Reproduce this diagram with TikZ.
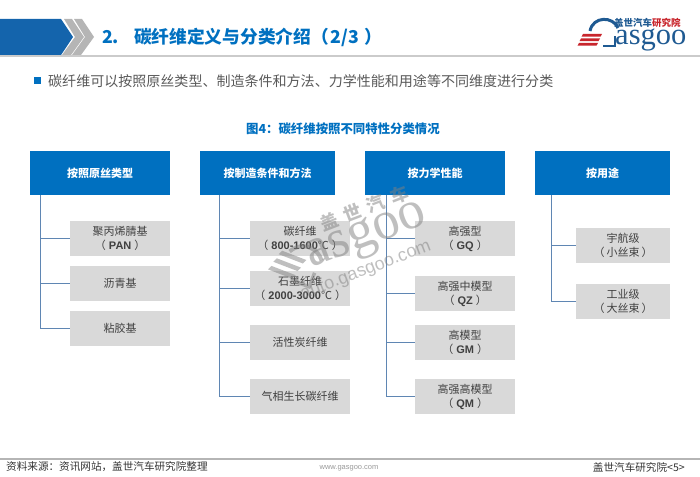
\documentclass[tikz,border=0pt]{standalone}
\usepackage{fontspec}
\setmainfont{Noto Sans CJK SC}
\newfontfamily\logofont{Liberation Serif}
\newfontfamily\wmfont{Liberation Sans}
\definecolor{gasblue}{HTML}{0070C0}
\definecolor{darkblue}{HTML}{1464AC}
\definecolor{chevgray}{HTML}{B5B5B5}
\definecolor{boxgray}{HTML}{D9D9D9}
\definecolor{linkblue}{HTML}{5F86B3}
\definecolor{logored}{HTML}{C8252C}
\definecolor{logoblue}{HTML}{1F5A92}
\newcommand{\latnote}[1]{（\hspace{3pt}{\wmfont\bfseries #1}\hspace{3pt}）}
\newcommand{\cjknote}[1]{（\hspace{2pt}#1\hspace{2pt}）}
\tikzset{
    headbox/.style={fill=gasblue,text=white,font=\fontsize{11}{13}\selectfont\bfseries,minimum height=44pt,inner sep=0pt,anchor=north west},
    kidbox/.style={fill=boxgray,text=black!75,font=\fontsize{11}{14}\selectfont,minimum height=35pt,minimum width=100pt,inner sep=0pt,align=center,anchor=north west},
    branch/.style={linkblue,line width=1pt},
    wmark/.style={gray,opacity=.5,rotate=21}
}
\begin{document}
\begin{tikzpicture}[x=1pt,y=-1pt,line join=miter]
    \useasboundingbox (0,0) rectangle (700,476);
    % title bar
    \fill[darkblue] (0,19)--(61,19)--(73,37)--(61,55)--(0,55)--cycle;
    \foreach \s in {0,10}
        \fill[chevgray] (64+\s,19)--(72+\s,19)--(84+\s,37)--(71+\s,55)--(62+\s,55)--(75+\s,37)--cycle;
    \draw[chevgray!70,line width=1.6pt] (0,56)--(700,56);
    \node[anchor=west,text=gasblue,font=\fontsize{17.7}{20}\selectfont\bfseries,inner sep=0pt] (title) at (102,37) {2.\hspace{15pt}碳纤维定义与分类介绍（\hspace{2pt}2/3\hspace{5pt}）};
    % logo
    \foreach \s/\t in {0/34,2/38.5,4/43}
        \fill[logored] (583-\s,\t)--(602-\s,\t)--(600.5-\s,\t+2.6)--(581.5-\s,\t+2.6)--cycle;
    \draw[logoblue,line width=3pt] (590,31) .. controls (593,16) and (613,16) .. (618,28);
    \draw[logoblue,line width=2.6pt] (603,46)--(615,46)--(615,36);
    \node[anchor=base west,text=logoblue,font=\logofont\fontsize{30.5}{30}\selectfont,inner sep=0pt] (logoword) at (615,45) {asgoo};
    \node[anchor=west,text=logoblue,font=\fontsize{9.5}{10}\selectfont\bfseries,inner sep=0pt] (logocn) at (614,23) {盖世汽车\textcolor{logored}{研究院}};
    % intro
    \fill[gasblue] (34,77) rectangle (41,84);
    \node[anchor=west,text=black!65,font=\fontsize{14.03}{16}\selectfont,inner sep=0pt] (intro) at (48,81) {碳纤维可以按照原丝类型、制造条件和方法、力学性能和用途等不同维度进行分类};
    \node[text=gasblue,font=\fontsize{12.4}{15}\selectfont\bfseries,inner sep=0pt] (figcap) at (343,129) {图4：碳纤维按照不同特性分类情况};
    % heads
    \node[headbox,minimum width=140pt] (head1) at (30,151) {按照原丝类型};
    \node[headbox,minimum width=135pt] (head2) at (200,151) {按制造条件和方法};
    \node[headbox,minimum width=140pt] (head3) at (365,151) {按力学性能};
    \node[headbox,minimum width=135pt] (head4) at (535,151) {按用途};
    % first column
    \node[kidbox] (pan) at (70,221) {聚丙烯腈基\\\latnote{PAN}};
    \node[kidbox] (pitch) at (70,266) {沥青基};
    \node[kidbox] (viscose) at (70,311) {粘胶基};
    % second column
    \node[kidbox] (carbon) at (250,221) {碳纤维\\\latnote{800-1600\normalfont℃}};
    \node[kidbox] (graphite) at (250,271) {石墨纤维\\\latnote{2000-3000\normalfont℃}};
    \node[kidbox] (active) at (250,325) {活性炭纤维};
    \node[kidbox] (vapor) at (250,379) {气相生长碳纤维};
    % third column
    \node[kidbox] (gq) at (415,221) {高强型\\\latnote{GQ}};
    \node[kidbox] (qz) at (415,276) {高强中模型\\\latnote{QZ}};
    \node[kidbox] (gm) at (415,325) {高模型\\\latnote{GM}};
    \node[kidbox] (qm) at (415,379) {高强高模型\\\latnote{QM}};
    % fourth column
    \node[kidbox,minimum width=94pt] (space) at (576,228) {宇航级\\\cjknote{小丝束}};
    \node[kidbox,minimum width=94pt] (indus) at (576,284) {工业级\\\cjknote{大丝束}};
    % trunks
    \coordinate (trunk1) at (40,195);
    \coordinate (trunk2) at (219,195);
    \coordinate (trunk3) at (386,195);
    \coordinate (trunk4) at (551,195);
    \foreach \k in {pan,pitch,viscose} \draw[branch] (trunk1) |- (\k.west);
    \foreach \k in {carbon,graphite,active,vapor} \draw[branch] (trunk2) |- (\k.west);
    \foreach \k in {gq,qz,gm,qm} \draw[branch] (trunk3) |- (\k.west);
    \foreach \k in {space,indus} \draw[branch] (trunk4) |- (\k.west);
    % watermark
    \node[wmark,font=\bfseries\fontsize{18}{20}\selectfont,inner sep=0pt] (wmcn) at (364,208) {盖\hspace{7pt}世\hspace{7pt}汽\hspace{7pt}车};
    \begin{scope}[shift={(292,262)},rotate=-21,gray,opacity=.5]
        \foreach \t in {-7,2,11}
            \fill (-15-\t*.25,\t)--(11-\t*.25,\t)--(9-\t*.25,\t+4.5)--(-17-\t*.25,\t+4.5)--cycle;
        \draw[line width=4pt] (-6,-9) .. controls (2,-24) and (20,-22) .. (27,-12);
        \draw[line width=3.5pt] (9,17)--(25,17)--(25,2);
    \end{scope}
    \node[wmark,anchor=base west,font=\logofont\fontsize{54}{54}\selectfont,inner sep=0pt] (wmword) at (311,268) {asgoo};
    \node[wmark,font=\wmfont\fontsize{18}{20}\selectfont,inner sep=0pt] (wmurl) at (366,271) {auto.gasgoo.com};
    % footer
    \draw[chevgray,line width=1.4pt] (0,459)--(700,459);
    \node[anchor=west,text=black!80,font=\fontsize{10.6}{12}\selectfont,inner sep=0pt] (source) at (6,467) {资料来源：资讯网站，盖世汽车研究院整理};
    \node[text=black!40,font=\wmfont\fontsize{7.5}{9}\selectfont,inner sep=0pt] (site) at (349,468) {www.gasgoo.com};
    \node[anchor=east,text=black!80,font=\fontsize{10.6}{12}\selectfont,inner sep=0pt] (page) at (685,467) {盖世汽车研究院<5>};
\end{tikzpicture}
\end{document}
